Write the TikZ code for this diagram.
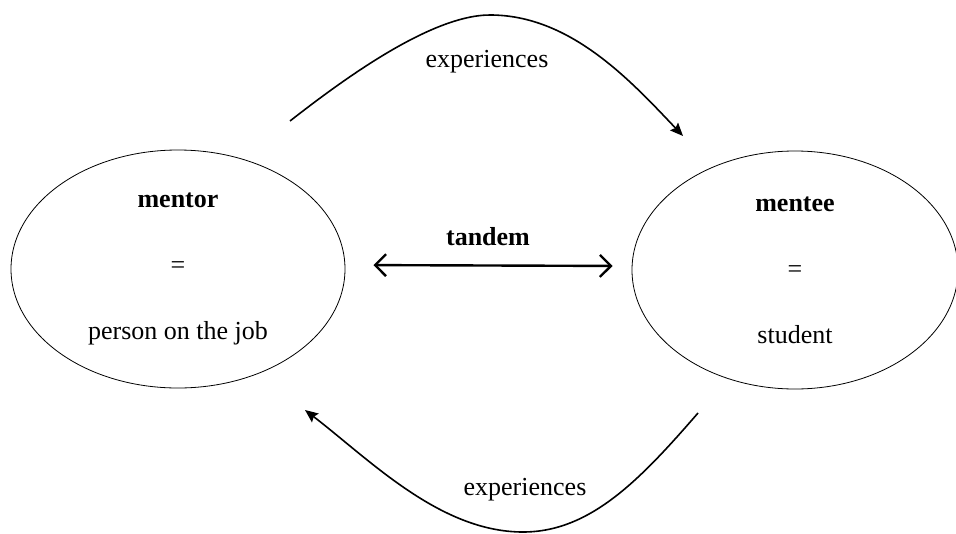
\documentclass[tikz,border=0pt]{standalone}
\usepackage{fontspec}
\setmainfont{Liberation Serif}
\usetikzlibrary{arrows.meta,shapes.geometric}
\tikzset{>={Stealth[length=13pt,width=11pt,inset=2pt]}}
\tikzset{
  role/.style={draw, ellipse, line width=0.8pt, inner sep=0pt, align=center,
    font=\fontsize{26}{66}\selectfont},
  flow/.style={->, line width=1.6pt},
  label/.style={font=\fontsize{26}{30}\selectfont},
}

\begin{document}
\begin{tikzpicture}[x=1pt,y=-1pt]
    \useasboundingbox (0,0) rectangle (956,533);
    % the two partners
    \node[role, minimum width=334pt, minimum height=238pt] (mentor) at (178,269)
      {\textbf{mentor}\\=\\person on the job};
    \node[role, minimum width=326pt, minimum height=238pt] (mentee) at (795,270)
      {\textbf{mentee}\\=\\student};

    % tandem in between
    \draw[{Straight Barb[length=11pt,width=22pt]}-{Straight Barb[length=11pt,width=22pt]},
      line width=2.4pt, shorten <=28pt, shorten >=19pt]
      ([yshift=4pt]mentor.east) -- ([yshift=4pt]mentee.west);
    \node[label, font=\fontsize{26}{30}\selectfont\bfseries] (tandem) at (488,237) {tandem};

    % experiences going both ways
    \coordinate (topfrom) at (290,121);
    \coordinate (topto) at (683,136);
    \draw[flow] (topfrom) .. controls (340,82) and (430,15) .. (490,15)
      .. controls (570,15) and (630,80) .. (topto);
    \node[label] (topnote) at (487,62) {experiences};

    \coordinate (botfrom) at (698,413);
    \coordinate (botto) at (305,410);
    \draw[flow] (botfrom) .. controls (640,480) and (590,532) .. (523,532)
      .. controls (440,532) and (370,460) .. (botto);
    \node[label] (botnote) at (525,490) {experiences};
  \end{tikzpicture}
\end{document}
